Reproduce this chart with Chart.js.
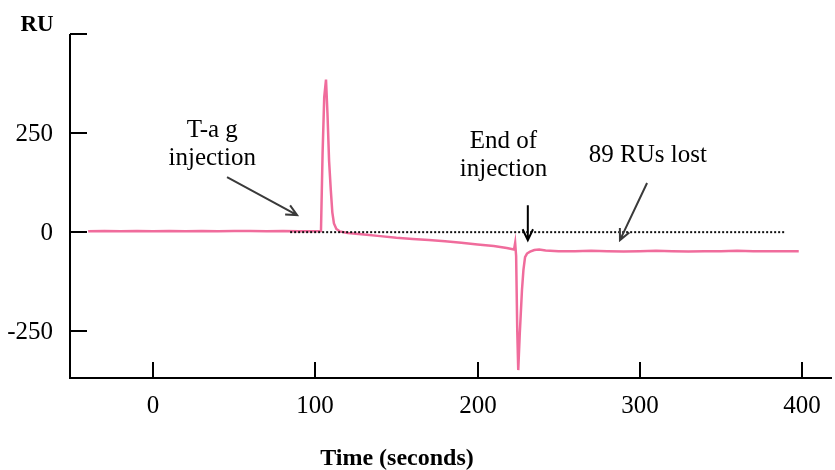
<!DOCTYPE html>
<html>
<head>
<meta charset="utf-8">
<title>T-ag binding sensorgram</title>
<script src="https://cdn.jsdelivr.net/npm/chart.js@4.4.1/dist/chart.umd.min.js"></script>
<style>
    html, body { margin: 0; padding: 0; background: #fff; }
    #wrap { width: 835px; height: 470px; }
</style>
</head>
<body>
<div id="wrap"><canvas id="sensorgram"></canvas></div>
<script>
// Sensorgram trace: time (s) and response (RU)
const traceTime = [
    -40, -30, -20, -10, 0, 10, 20, 30, 40, 50, 60, 70, 80, 90, 100, 103.5,
    104.5, 105.5, 106.6, 107.5, 108.5, 109.5, 110.5, 111.5, 113, 115,
    120, 130, 140, 150, 160, 170, 180, 190, 200, 210, 218, 222.5,
    223.2, 223.8, 224.5, 225.1, 226, 227.4, 228.3, 229.3, 230.5, 232.4, 235, 238, 242,
    250, 260, 270, 280, 290, 300, 310, 320, 330, 340, 350, 360, 370, 380, 390, 398
];
const traceRU = [
    2, 3, 2, 3, 2, 3, 2, 3, 2, 3, 3, 2, 3, 2, 2, 3,
    200, 340, 385, 300, 180, 110, 50, 22, 8, 2,
    -2, -6, -10, -14, -17, -20, -23, -27, -31, -35, -40, -44,
    -27, -60, -250, -348, -260, -146, -95, -63, -54, -49, -45, -44, -46,
    -48, -48, -47, -48, -49, -48, -47, -48, -49, -48, -48, -47, -48, -48, -48, -48
];

// Zero reference line
const refTime = [84.5, 390];
const refRU = [0, 0];

// Axis ticks
const xTicks = [0, 100, 200, 300, 400];
const yTicks = [-250, 0, 250, 500];
const yTickLabels = ['-250', '0', '250', ''];

// Annotations (text in data units, arrows from -> to)
const notes = [
    { lines: ['T-a g', 'injection'], x: 36.5, y: 240 },
    { lines: ['End of', 'injection'], x: 216, y: 212 },
    { lines: ['89 RUs lost'], x: 305, y: 177 }
];
const arrows = [
    { from: [45.6, 139], to: [88.8, 43], color: '#3a3a3a' },
    { from: [231, 68], to: [231, -20], color: '#000' },
    { from: [304.5, 124], to: [287.8, -20], color: '#3a3a3a' }
];

const serif = '"Liberation Serif", "DejaVu Serif", serif';

function toPoints(xs, ys) {
    return xs.map((x, i) => ({ x: x, y: ys[i] }));
}

function drawArrow(ctx, x1, y1, x2, y2, color) {
    const ang = Math.atan2(y2 - y1, x2 - x1);
    const head = 12;
    ctx.save();
    ctx.strokeStyle = color;
    ctx.lineWidth = 2;
    ctx.beginPath();
    ctx.moveTo(x1, y1);
    ctx.lineTo(x2, y2);
    ctx.moveTo(x2 - head * Math.cos(ang - 0.45), y2 - head * Math.sin(ang - 0.45));
    ctx.lineTo(x2, y2);
    ctx.lineTo(x2 - head * Math.cos(ang + 0.45), y2 - head * Math.sin(ang + 0.45));
    ctx.stroke();
    ctx.restore();
}

// Axes, inward ticks, labels and annotations
const axesPlugin = {
    id: 'axesPlugin',
    afterDatasetsDraw(chart) {
        const ctx = chart.ctx;
        const xs = chart.scales.x;
        const ys = chart.scales.y;
        const area = chart.chartArea;
        ctx.save();
        ctx.strokeStyle = '#000';
        ctx.lineWidth = 2;
        ctx.beginPath();
        ctx.moveTo(area.left, area.top);
        ctx.lineTo(area.left, area.bottom);
        ctx.lineTo(area.right, area.bottom);
        ctx.stroke();

        ctx.fillStyle = '#000';
        ctx.font = '25px ' + serif;

        // y ticks
        ctx.textAlign = 'right';
        ctx.textBaseline = 'middle';
        yTicks.forEach((v, i) => {
            const py = Math.round(ys.getPixelForValue(v));
            ctx.beginPath();
            ctx.moveTo(area.left, py);
            ctx.lineTo(area.left + 17, py);
            ctx.stroke();
            if (yTickLabels[i]) ctx.fillText(yTickLabels[i], area.left - 17, py + 1);
        });

        // x ticks
        ctx.textAlign = 'center';
        xTicks.forEach(v => {
            const px = Math.round(xs.getPixelForValue(v));
            ctx.beginPath();
            ctx.moveTo(px, area.bottom);
            ctx.lineTo(px, area.bottom - 16);
            ctx.stroke();
            ctx.fillText(String(v), px, area.bottom + 28);
        });

        // axis titles
        ctx.font = 'bold 24px ' + serif;
        ctx.fillText('Time (seconds)', 397, 459);
        ctx.font = 'bold 23px ' + serif;
        ctx.fillText('RU', 37, 25);

        // annotations
        ctx.font = '25px ' + serif;
        ctx.textBaseline = 'alphabetic';
        notes.forEach(n => {
            const px = xs.getPixelForValue(n.x);
            const py = ys.getPixelForValue(n.y);
            n.lines.forEach((t, i) => ctx.fillText(t, px, py + i * 28));
        });
        arrows.forEach(a => {
            drawArrow(ctx,
                xs.getPixelForValue(a.from[0]), ys.getPixelForValue(a.from[1]),
                xs.getPixelForValue(a.to[0]), ys.getPixelForValue(a.to[1]),
                a.color);
        });
        ctx.restore();
    }
};

new Chart(document.getElementById('sensorgram'), {
    type: 'line',
    data: {
        datasets: [
            {
                data: toPoints(refTime, refRU),
                borderColor: '#111',
                borderWidth: 2,
                borderDash: [2, 2],
                pointRadius: 0,
                tension: 0
            },
            {
                data: toPoints(traceTime, traceRU),
                borderColor: '#f06c9c',
                borderWidth: 2.5,
                pointRadius: 0,
                tension: 0
            }
        ]
    },
    options: {
        responsive: true,
        maintainAspectRatio: false,
        animation: false,
        events: [],
        layout: { padding: { left: 70, right: 3, top: 34, bottom: 92 } },
        plugins: { legend: { display: false }, tooltip: { enabled: false } },
        scales: {
            x: { type: 'linear', min: -51.2, max: 418.5, display: false },
            y: { type: 'linear', min: -368, max: 500, display: false }
        }
    },
    plugins: [axesPlugin]
});
</script>
</body>
</html>
